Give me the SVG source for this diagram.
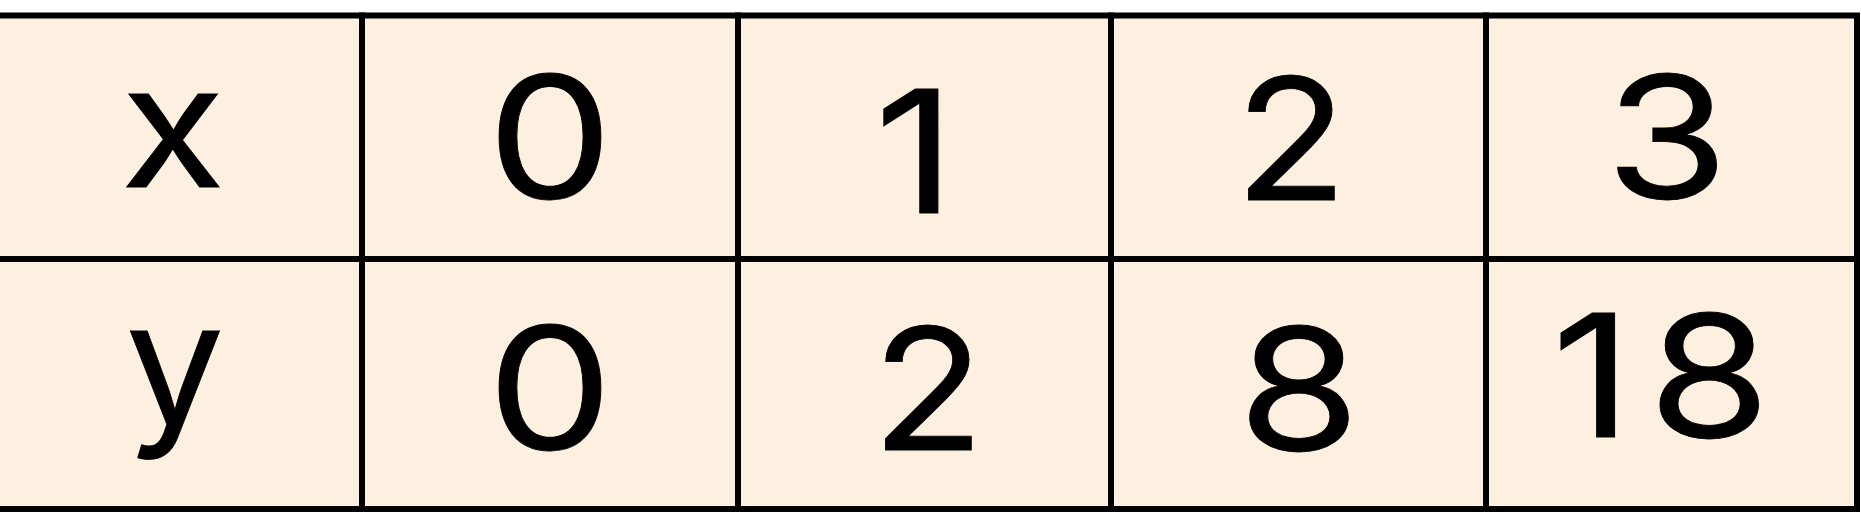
<svg xmlns="http://www.w3.org/2000/svg" width="1861" height="512" viewBox="0 0 1861 512">
<style>
.cell{fill:#FEF0E1;stroke:#000;stroke-width:6}
.t{font-family:Inter,"Noto Sans","DejaVu Sans",sans-serif;font-size:170px;font-weight:400;fill:#000;stroke:#000;stroke-width:0.8;text-anchor:middle}
</style>
<rect width="1861" height="512" fill="#fff"/>
<g id="cell-x-label"><rect class="cell" x="-20" y="15.5" width="382" height="243.5"/><text class="t" transform="translate(173,187) scale(1.13,1)">x</text></g>
<g id="cell-x-0"><rect class="cell" x="362" y="15.5" width="376" height="243.5"/><text class="t" transform="translate(550,198) scale(1.17,1)">0</text></g>
<g id="cell-x-1"><rect class="cell" x="738" y="15.5" width="373" height="243.5"/><text class="t" transform="translate(915,213) scale(1.17,1)">1</text></g>
<g id="cell-x-2"><rect class="cell" x="1111" y="15.5" width="375" height="243.5"/><text class="t" transform="translate(1291,200) scale(1.09,1)">2</text></g>
<g id="cell-x-3"><rect class="cell" x="1486" y="15.5" width="371" height="243.5"/><text class="t" transform="translate(1667,198) scale(1.17,1)">3</text></g>
<g id="cell-y-label"><rect class="cell" x="-20" y="259" width="382" height="250"/><text class="t" transform="translate(175,424) scale(1.03,1)">y</text></g>
<g id="cell-y-0"><rect class="cell" x="362" y="259" width="376" height="250"/><text class="t" transform="translate(550,449) scale(1.17,1)">0</text></g>
<g id="cell-y-1"><rect class="cell" x="738" y="259" width="373" height="250"/><text class="t" transform="translate(928,450) scale(1.09,1)">2</text></g>
<g id="cell-y-2"><rect class="cell" x="1111" y="259" width="375" height="250"/><text class="t" transform="translate(1299,450) scale(1.16,1)">8</text></g>
<g id="cell-y-3"><rect class="cell" x="1486" y="259" width="371" height="250"/><text class="t" transform="translate(1661,437) scale(1.16,1)">1<tspan dx="14">8</tspan></text></g>
<g id="connectors"></g>
</svg>
